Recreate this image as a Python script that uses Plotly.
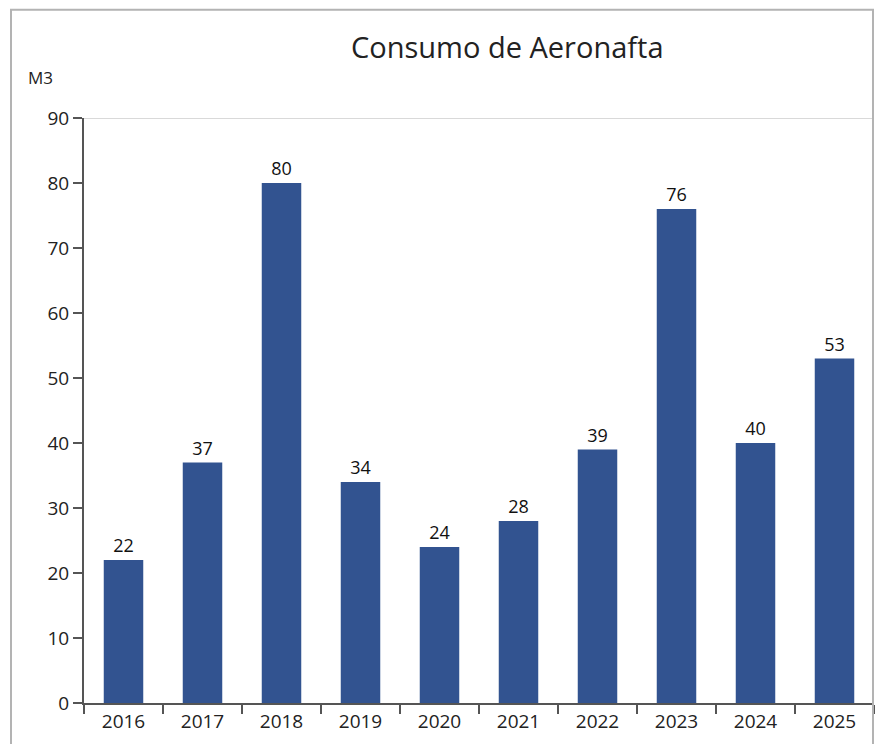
import plotly.graph_objects as go

years = ["2016", "2017", "2018", "2019", "2020", "2021", "2022", "2023", "2024", "2025"]
consumo = [22, 37, 80, 34, 24, 28, 39, 76, 40, 53]
y_ticks = [0, 10, 20, 30, 40, 50, 60, 70, 80, 90]

OFF = 8  # page body margin
W, H = 884 - OFF, 744 - OFF
L, T = 84 - OFF, 118 - OFF
# plot area in page px: x 84..874, y 118..705
pw = (874 - 84)
ph = (705 - 118)
R = W - L - pw
B = H - T - ph


def px_x(p):
    return (p - OFF - L) / pw


def px_y(p):
    return (H - B - (p - OFF)) / ph


FONT = "Open Sans"

fig = go.Figure(
    go.Bar(
        x=years,
        y=consumo,
        marker=dict(color="#325390", line=dict(width=0)),
        text=[str(v) for v in consumo],
        textposition="outside",
        cliponaxis=False,
        textfont=dict(family=FONT, size=18, color="#111111"),
    )
)

fig.update_layout(
    width=W,
    height=H,
    margin=dict(l=L, r=R, t=T, b=B, pad=0),
    paper_bgcolor="white",
    plot_bgcolor="white",
    bargap=0.5,
    showlegend=False,
    font=dict(family=FONT, color="#222222"),
    xaxis=dict(
        type="category",
        tickson="boundaries",
        ticks="outside",
        ticklen=9,
        tickwidth=2,
        tickcolor="#555555",
        showline=True,
        linecolor="#555555",
        linewidth=2,
        showgrid=False,
        tickfont=dict(family=FONT, size=19, color="#222222"),
        fixedrange=True,
    ),
    yaxis=dict(
        range=[0, 90],
        tickvals=y_ticks,
        ticks="outside",
        ticklen=9,
        tickwidth=2,
        tickcolor="#555555",
        showline=True,
        linecolor="#555555",
        linewidth=2,
        showgrid=False,
        zeroline=False,
        tickfont=dict(family=FONT, size=19, color="#222222"),
        fixedrange=True,
    ),
    shapes=[
        dict(type="line", xref="paper", yref="y", x0=0, x1=1, y0=90, y1=90,
             line=dict(color="#d9d9d9", width=2), layer="below"),
        dict(type="rect", xref="paper", yref="paper",
             x0=px_x(11), x1=px_x(873), y0=px_y(760), y1=px_y(9.5),
             line=dict(color="#b3b3b3", width=2), layer="above"),
    ],
    annotations=[
        dict(text="Consumo de Aeronafta", xref="paper", yref="paper",
             x=px_x(507), y=px_y(46), xanchor="center", yanchor="middle",
             showarrow=False, font=dict(family=FONT, size=29, color="#222222")),
        dict(text="M3", xref="paper", yref="paper",
             x=px_x(26), y=px_y(77), xanchor="left", yanchor="middle",
             showarrow=False, font=dict(family=FONT, size=17, color="#222222")),
    ],
)

fig.write_html("out.html")
